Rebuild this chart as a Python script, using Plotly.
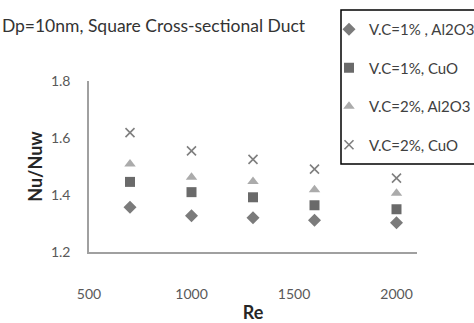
import plotly.graph_objects as go

re_vals = [700, 1000, 1300, 1600, 2000]
vc1_al2o3 = [1.357, 1.327, 1.320, 1.311, 1.303]
vc1_cuo = [1.446, 1.410, 1.392, 1.364, 1.350]
vc2_al2o3 = [1.509, 1.462, 1.447, 1.418, 1.406]
vc2_cuo = [1.619, 1.555, 1.525, 1.491, 1.459]

names = ["V.C=1% , Al2O3", "V.C=1%, CuO", "V.C=2%, Al2O3", "V.C=2%, CuO"]
series = [vc1_al2o3, vc1_cuo, vc2_al2o3, vc2_cuo]
symbols = ["diamond", "square", "triangle-up", "x-thin-open"]
colors = ["#7b7b7b", "#6a6a6a", "#ababab", "#7f7f7f"]
sizes = [10, 10, 10, 9]

FONT = "Lato, Carlito, Calibri, sans-serif"

fig = go.Figure()
for i, (n, s) in enumerate(zip(names, series)):
    mk = dict(symbol=symbols[i], color=colors[i], size=sizes[i])
    if symbols[i] == "x-thin-open":
        mk["line"] = dict(color=colors[i], width=1.6)
    else:
        mk["line"] = dict(width=0)
    fig.add_trace(go.Scatter(x=re_vals, y=s, mode="markers", name=n,
                             marker=mk, legendgroup=str(i)))

fig.update_layout(
    width=474, height=323,
    margin=dict(l=89, r=57, t=81, b=71, autoexpand=False),
    paper_bgcolor="white", plot_bgcolor="white",
    font=dict(family=FONT, color="#595959", size=14),
    title=dict(text="Dp=10nm, Square Cross-sectional Duct", x=0.004, xanchor="left",
               y=0.92, yanchor="middle", font=dict(size=17.5, color="#333333", family=FONT)),
    showlegend=True,
    legend=dict(x=(329 - 89) / 328, xanchor="left", y=(323 - 71 - 13) / 171, yref="paper",
                yanchor="top", bgcolor="rgba(0,0,0,0)", borderwidth=0,
                font=dict(size=15, color="#404040", family=FONT),
                tracegroupgap=16, itemsizing="trace"),
    xaxis=dict(range=[500, 2100], tick0=500, dtick=500, showgrid=False, zeroline=False,
               showline=True, linecolor="#a0a0a0", linewidth=1.5,
               ticks="outside", ticklen=28, tickcolor="rgba(0,0,0,0)",
               title=dict(text="<b>Re</b>", font=dict(size=18, color="#262626"), standoff=12)),
    yaxis=dict(range=[1.2, 1.8], dtick=0.2, tickformat=".1f", showgrid=False, zeroline=False,
               showline=True, linecolor="#a0a0a0", linewidth=1.5,
               ticks="outside", ticklen=14, tickcolor="rgba(0,0,0,0)",
               title=dict(text="<b>Nu/Nuw</b>", font=dict(size=18, color="#262626"), standoff=4)),
    shapes=[dict(type="rect", xref="paper", yref="paper",
                 x0=(341 - 89) / 328, x1=(480 - 89) / 328,
                 y0=(323 - 71 - 164) / 171, y1=(323 - 71 - 10) / 171,
                 line=dict(color="#000000", width=1.5), fillcolor="rgba(0,0,0,0)")],
)
fig.write_html("out.html")
